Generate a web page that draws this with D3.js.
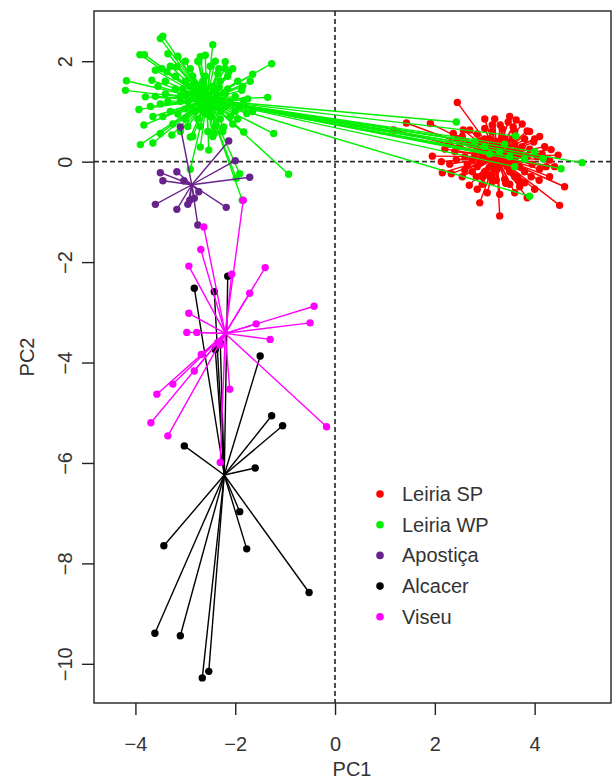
<!DOCTYPE html>
<html><head><meta charset="utf-8">
<script src="https://cdn.jsdelivr.net/npm/d3@7"></script>
<style>body{margin:0;background:#fff}svg{display:block}text{font-family:"Liberation Sans",Arial,sans-serif;fill:#333}</style>
</head><body><svg id="c" width="612" height="779"></svg>
<script>
// ---------- data ----------
const groups = ["Leiria SP", "Leiria WP", "Apostiça", "Alcacer", "Viseu"];
const colors = ["#ff0000", "#00f000", "#68228b", "#000000", "#ff00ff"];
const xTicks = [-4, -2, 0, 2, 4];
const yTicks = [2, 0, -2, -4, -6, -8, -10];

const centroidX = [3.24, -2.57, -2.87, -2.22, -2.20];
const centroidY = [0.10, 1.23, -0.46, -6.24, -3.42];

const leiriaSP = [
[2.45,1.18],[1.43,0.77],[1.17,0.63],[1.91,0.76],[1.95,0.11],[2.13,0.00],[2.15,-0.22],[2.33,-0.24],[2.69,-0.47],[2.90,-0.82],
[3.30,-1.08],[3.42,-0.43],[3.70,-0.50],[3.80,-0.42],[4.09,-0.37],[4.50,-0.87],[4.60,-0.50],[4.33,0.24],[4.47,0.13],[3.98,0.39],
[3.85,0.61],[3.63,0.83],[3.47,0.79],[3.31,0.73],[3.15,0.73],[3.00,0.66],[2.70,0.63],[2.57,0.63],[3.57,0.69],[2.37,0.56],
[2.43,0.04],[2.60,-0.17],[2.83,-0.30],[3.10,-0.30],[3.23,-0.37],[3.60,-0.30],[3.93,-0.30],[4.23,-0.10],[4.30,0.03],
[3.00,0.20],[3.20,0.10],[3.40,0.00],[3.30,0.30],[3.10,-0.10],[2.90,0.00],[3.50,0.20],[3.60,0.05],[3.70,-0.10],[3.50,-0.20],
[3.25,-0.15],[3.00,-0.20],[2.80,0.15],[2.70,0.35],[2.90,0.40],[3.10,0.45],[3.35,0.50],[3.55,0.45],[3.75,0.30],[3.85,0.10],
[3.95,-0.05],[3.80,-0.20],[3.40,-0.35],[3.15,-0.40],[2.95,-0.30],[2.60,0.10],[2.50,0.30],[2.65,-0.05],[3.20,0.25],[3.45,0.15],
[3.30,-0.05],[3.05,0.05],[3.60,0.35],[3.90,0.25],[4.05,0.10],[4.10,-0.15],[3.65,-0.30],[3.35,0.65],[3.15,0.60],[2.85,0.55],
[2.55,0.50],[2.40,0.20],[2.75,-0.20],[3.50,-0.45],[3.25,0.40],[3.05,0.30],[3.45,0.35],[2.95,0.15],[3.70,0.15],[3.15,-0.25],
[3.55,-0.05],[3.35,0.15],[3.00,0.45],[3.80,0.45],[4.20,0.30],[4.00,0.45],[2.45,0.45],[2.30,0.35],[3.60,0.60],[3.90,0.60],
[3.20,0.85],[3.00,0.85],[3.50,0.90],[3.75,0.75],[4.10,0.50],[2.20,0.25],[2.30,-0.05],[2.55,-0.30],[2.85,-0.55],[3.05,-0.62],
[3.30,-0.65],[3.60,-0.62],[3.85,-0.72],[4.00,-0.55],[4.30,-0.30],[4.40,-0.10],
[2.75,0.05],[2.85,-0.10],[3.15,0.35],[3.40,0.45],[3.65,0.25],[3.45,-0.10],[3.25,0.00],[2.95,-0.45],[3.70,-0.40],[4.15,0.15]
];

const leiriaWP = [
[-3.50,2.45],[-3.45,2.50],[-3.91,2.13],[-3.82,2.13],[-2.45,2.33],[-3.35,2.15],[-3.15,2.10],[-1.27,1.95],[-4.18,1.61],[-4.20,1.42],
[-3.93,1.04],[-3.83,0.73],[-3.90,0.34],[-3.65,0.37],[-3.50,0.56],[-3.27,0.53],[-2.90,0.49],[-2.70,0.29],[-2.53,0.23],[-2.42,0.56],
[-2.23,0.69],[-1.83,0.59],[-1.23,0.56],[-0.93,-0.25],[-1.35,1.28],[-1.65,1.74],[-2.20,1.99],[-1.91,-0.24],[-1.98,-0.33],[-2.90,-0.15],
[-2.70,2.09],[-2.60,2.12],[-2.73,1.99],[-3.17,1.89],[-3.47,1.85],[-3.60,1.82],[-3.37,1.79],[-2.33,1.85],[-2.13,1.79],[-1.87,1.42],
[-1.83,1.22],[-1.77,0.96],[-3.67,1.62],[-3.80,1.29],[-1.86,-0.77],
[-2.90,1.50],[-2.70,1.30],[-2.40,1.40],[-2.20,1.10],[-2.50,0.90],[-2.80,1.00],[-3.10,1.20],[-3.00,1.60],[-2.60,1.70],[-2.30,1.60],
[-2.00,1.30],[-2.10,0.90],[-2.40,0.70],[-2.70,0.70],[-3.00,0.85],[-3.30,1.00],[-3.40,1.35],[-3.20,1.70],[-2.90,1.85],[-2.50,1.90],
[-2.20,1.85],[-1.95,1.60],[-1.90,1.10],[-2.05,0.75],[-2.60,1.45],[-2.75,1.20],[-2.45,1.15],[-2.35,1.30],[-2.65,1.00],[-2.85,1.35],
[-3.05,1.45],[-3.15,0.95],[-2.55,0.60],[-2.25,0.60],[-3.50,1.15],[-3.55,1.50],[-3.30,1.90],[-2.75,2.00],[-2.40,2.00],[-2.15,1.45],
[-1.85,1.50],[-1.75,1.25],[-2.00,1.00],[-2.30,0.85],[-2.95,0.70],[-3.25,0.75],[-3.45,0.90],[-3.60,1.30],[-3.00,1.05],[-2.80,1.55],
[-2.55,1.30],[-2.50,1.05],[-2.70,1.10],[-2.40,1.25],[-2.60,1.15],[-2.45,1.50],[-2.85,1.70],[-2.15,1.70],[-3.10,1.30],[-3.35,1.20],
[-2.30,1.00],[-2.10,1.20],[-2.65,1.60],[-2.95,1.20],[-3.20,1.45],[-2.20,1.35],[-1.95,0.85],[-2.75,0.85],[-3.40,1.60],[-3.70,1.10],
[-3.65,0.90],[-3.00,2.00],[-2.35,1.75],[-2.05,1.85],[-1.70,1.60],[-1.65,1.00],[-2.45,0.50],[-2.85,0.50],[-3.10,0.60],
[-2.62,1.38],[-2.52,1.20],[-2.38,1.08],[-2.78,1.42],[-2.88,1.08],[-2.25,1.22],[-2.68,1.52],[-2.98,1.35],[-2.32,1.48],[-2.58,0.95],
[2.43,0.79],[3.62,0.51],[4.17,0.06],[4.53,-0.14],[4.95,-0.02],[3.90,-0.69],[3.00,0.30],[3.30,0.20],[3.50,0.10],[2.80,0.40],
[3.80,0.05],[3.10,0.15],[3.60,-0.10],[4.00,0.20],[3.40,0.35]
];

const apostica = [
[-3.50,-0.22],[-3.45,-0.38],[-3.17,-0.20],[-3.03,-0.38],[-3.60,-0.85],[-3.17,-0.95],[-2.91,-0.77],[-2.82,-0.73],[-2.73,-0.60],[-2.18,-0.91],
[-1.71,-0.31],[-2.00,0.02],[-2.13,0.41],[-3.10,0.69],[-2.75,-1.26],[-2.95,-0.85]
];

const alcacer = [
[-2.15,-2.28],[-2.82,-2.52],[-2.42,-2.59],[-1.50,-3.87],[-1.27,-5.06],[-1.05,-5.26],[-3.02,-5.66],[-2.40,-3.74],[-1.60,-6.10],[-1.91,-6.97],
[-1.77,-7.71],[-3.43,-7.65],[-0.52,-8.58],[-3.61,-9.39],[-3.10,-9.44],[-2.53,-10.15],[-2.66,-10.28],[-2.30,-3.60]
];

const viseu = [
[-2.63,-1.30],[-2.69,-1.75],[-2.93,-2.08],[-1.40,-2.11],[-2.07,-2.24],[-1.71,-2.62],[-2.93,-3.02],[-0.42,-2.88],[-0.50,-3.21],[-1.58,-3.23],
[-2.97,-3.40],[-2.77,-3.40],[-1.30,-3.54],[-2.30,-3.65],[-2.68,-3.84],[-2.82,-4.17],[-3.25,-4.43],[-3.57,-4.63],[-3.69,-5.20],[-3.35,-5.46],
[-2.11,-4.53],[-0.17,-5.28],[-1.84,-0.77],[-2.30,-5.99],[-2.35,-3.60]
];

const groupPoints = [leiriaSP, leiriaWP, apostica, alcacer, viseu];

// ---------- drawing ----------
const svg = d3.select("#c");
const L = 94, R = 611, T = 11, B = 703;
const x = d3.scaleLinear().domain([-4.83, 5.53]).range([L, R]);
const y = d3.scaleLinear().domain([-10.78, 3.0]).range([B, T]);

// reference dashed lines
svg.append("line").attr("x1", x(0)).attr("x2", x(0)).attr("y1", T).attr("y2", B)
  .attr("stroke", "#333").attr("stroke-width", 1.7).attr("stroke-dasharray", "5,3");
svg.append("line").attr("x1", L).attr("x2", R).attr("y1", y(0)).attr("y2", y(0))
  .attr("stroke", "#333").attr("stroke-width", 1.7).attr("stroke-dasharray", "5,3");

groups.forEach((g, i) => {
  const pts = groupPoints[i];
  const cx = centroidX[i], cy = centroidY[i];
  const gg = svg.append("g");
  gg.selectAll("line").data(pts).join("line")
    .attr("x1", d => x(d[0])).attr("y1", d => y(d[1]))
    .attr("x2", x(cx)).attr("y2", y(cy))
    .attr("stroke", colors[i]).attr("stroke-width", 1.4);
  gg.selectAll("circle").data(pts).join("circle")
    .attr("cx", d => x(d[0])).attr("cy", d => y(d[1])).attr("r", 3.7)
    .attr("fill", colors[i]);
});

// frame
svg.append("rect").attr("x", L).attr("y", T).attr("width", R - L).attr("height", B - T)
  .attr("fill", "none").attr("stroke", "#222").attr("stroke-width", 1.4);

// x axis
const xa = svg.append("g").attr("transform", `translate(0,${B})`)
  .call(d3.axisBottom(x).tickValues(xTicks).tickSize(12).tickSizeOuter(0)
    .tickFormat(d => d < 0 ? "\u2212" + Math.abs(d) : d));
xa.select(".domain").remove();
xa.selectAll("line").attr("stroke", "#222").attr("stroke-width", 1.4);
xa.selectAll("text").attr("font-size", 20).attr("fill", "#333").attr("dy", null).attr("y", 48)
  .attr("font-family", '"Liberation Sans",Arial,sans-serif');

// y axis
const ya = svg.append("g").attr("transform", `translate(${L},0)`)
  .call(d3.axisLeft(y).tickValues(yTicks).tickSize(12).tickSizeOuter(0)
    .tickFormat(d => d < 0 ? "\u2212" + Math.abs(d) : d));
ya.select(".domain").remove();
ya.selectAll("line").attr("stroke", "#222").attr("stroke-width", 1.4);
ya.selectAll("text").attr("font-size", 20).attr("fill", "#333")
  .attr("font-family", '"Liberation Sans",Arial,sans-serif')
  .attr("x", null).attr("dy", null).attr("text-anchor", "middle")
  .attr("transform", "translate(-22,0) rotate(-90)");

// axis titles
svg.append("text").attr("x", 352).attr("y", 776).attr("text-anchor", "middle")
  .attr("font-size", 20).text("PC1");
svg.append("text").attr("transform", `translate(34,${(T + B) / 2}) rotate(-90)`)
  .attr("text-anchor", "middle").attr("font-size", 20).text("PC2");

// legend
const lg = svg.append("g").attr("transform", "translate(380,494)");
groups.forEach((g, i) => {
  const row = lg.append("g").attr("transform", `translate(0,${i * 30.7})`);
  row.append("circle").attr("r", 3.8).attr("fill", colors[i]);
  row.append("text").attr("x", 22).attr("y", 7).attr("font-size", 20).text(g);
});
</script></body></html>
